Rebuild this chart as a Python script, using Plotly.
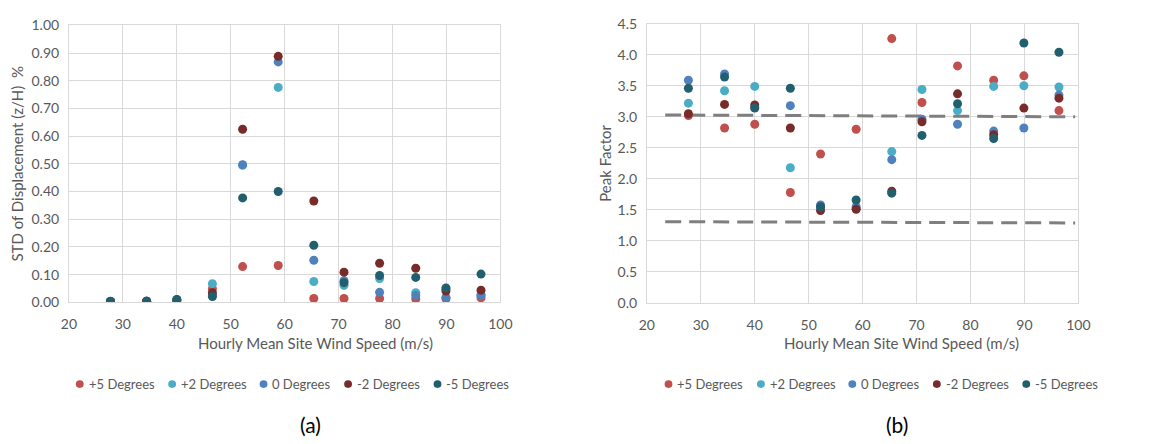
import plotly.graph_objects as go

# ---------------- data ----------------
wind_speed = [27.7, 34.4, 40.0, 46.6, 52.2, 58.8, 65.4, 71.0, 77.6, 84.3, 89.9, 96.4]
series_names = ["+5 Degrees", "+2 Degrees", "0 Degrees", "-2 Degrees", "-5 Degrees"]
series_colors = ["#C0504D", "#4BACC6", "#4F81BD", "#772C2A", "#215F6E"]

std_p5 = [0.000, 0.003, 0.005, 0.049, 0.129, 0.133, 0.014, 0.014, 0.014, 0.012, 0.013, 0.016]
std_p2 = [0.003, 0.004, 0.008, 0.067, 0.495, 0.776, 0.075, 0.061, 0.086, 0.035, 0.048, 0.028]
std_0 = [0.003, 0.004, 0.008, 0.025, 0.497, 0.868, 0.152, 0.078, 0.036, 0.025, 0.018, 0.025]
std_m2 = [0.003, 0.004, 0.009, 0.035, 0.625, 0.888, 0.366, 0.109, 0.141, 0.123, 0.041, 0.044]
std_m5 = [0.004, 0.004, 0.010, 0.021, 0.377, 0.400, 0.206, 0.071, 0.097, 0.090, 0.052, 0.102]

pf_p5 = [3.02, 2.82, 2.88, 1.78, 2.40, 2.80, 4.26, 3.23, 3.82, 3.59, 3.66, 3.10]
pf_p2 = [3.22, 3.42, 3.49, 2.18, 1.55, 1.52, 2.44, 3.44, 3.10, 3.49, 3.50, 3.48]
pf_0 = [3.59, 3.69, 3.15, 3.18, 1.58, 1.55, 2.31, 2.96, 2.88, 2.77, 2.82, 3.35]
pf_m2 = [3.05, 3.20, 3.19, 2.82, 1.49, 1.51, 1.80, 2.92, 3.37, 2.71, 3.14, 3.30]
pf_m5 = [3.46, 3.64, 3.14, 3.46, 1.55, 1.66, 1.77, 2.70, 3.21, 2.65, 4.19, 4.04]

limit_x = [23.4, 99.4]
upper_limit = [3.03, 3.00]
lower_limit = [1.31, 1.29]

std_series = [std_p5, std_p2, std_0, std_m2, std_m5]
pf_series = [pf_p5, pf_p2, pf_0, pf_m2, pf_m5]

left_ticks = [0.0, 0.1, 0.2, 0.3, 0.4, 0.5, 0.6, 0.7, 0.8, 0.9, 1.0]
right_ticks = [0.0, 0.5, 1.0, 1.5, 2.0, 2.5, 3.0, 3.5, 4.0, 4.5]
x_ticks = [20, 30, 40, 50, 60, 70, 80, 90, 100]

# ---------------- figure ----------------
W, H = 1169, 444
FONT = "Lato"
TXT = "#595959"
GRID = "#D9D9D9"

fig = go.Figure()

# dashed limit lines (drawn first, below markers)
for ly in (upper_limit, lower_limit):
    fig.add_trace(go.Scatter(x=limit_x, y=ly, mode="lines", xaxis="x2", yaxis="y2",
                             line=dict(color="#7F7F7F", width=3, dash="16px,8px"),
                             showlegend=False, hoverinfo="skip"))

for name, col, vals in zip(series_names, series_colors, std_series):
    fig.add_trace(go.Scatter(x=wind_speed, y=vals, mode="markers", name=name,
                             marker=dict(color=col, size=9), xaxis="x", yaxis="y",
                             showlegend=False))
for name, col, vals in zip(series_names, series_colors, pf_series):
    fig.add_trace(go.Scatter(x=wind_speed, y=vals, mode="markers", name=name,
                             marker=dict(color=col, size=9), xaxis="x2", yaxis="y2",
                             showlegend=False))


def px_x(p):
    return p / W


def px_y(p):
    return 1 - p / H


axis_common = dict(showgrid=True, gridcolor=GRID, gridwidth=1, showline=True,
                   linecolor=GRID, linewidth=1, mirror=True, zeroline=False,
                   ticks="", tickfont=dict(family=FONT, size=14, color=TXT))

annotations = []
shapes = []

# x-axis titles and panel labels
for cx, lab in ((313, "(a)"), (909, "(b)")):
    annotations.append(dict(text="Hourly Mean Site Wind Speed (m/s)", x=px_x(cx), y=px_y(347),
                            xref="paper", yref="paper", xanchor="center", yanchor="middle",
                            showarrow=False, font=dict(family=FONT, size=15, color=TXT)))
    annotations.append(dict(text=lab, x=px_x(cx - 5), y=px_y(432), xref="paper", yref="paper",
                            xanchor="center", yanchor="middle", showarrow=False,
                            font=dict(family=FONT, size=21, color="#000000")))

# legends (one under each panel)
legend_marker_x = [73, 167, 260, 346, 437]
legend_y = 390
for offset in (0, 599):
    for name, col, mx in zip(series_names, series_colors, legend_marker_x):
        cx = mx + offset
        shapes.append(dict(type="circle", xref="paper", yref="paper",
                           x0=px_x(cx - 4), x1=px_x(cx + 4),
                           y0=px_y(legend_y + 4), y1=px_y(legend_y - 4),
                           fillcolor=col, line=dict(width=0)))
        annotations.append(dict(text=name, x=px_x(cx + 7), y=px_y(legend_y),
                                xref="paper", yref="paper", xanchor="left", yanchor="middle",
                                showarrow=False, font=dict(family=FONT, size=13, color=TXT)))

fig.update_layout(
    width=W, height=H,
    margin=dict(l=0, r=0, t=0, b=0),
    paper_bgcolor="white", plot_bgcolor="white",
    font=dict(family=FONT, color=TXT),
    showlegend=False,
    xaxis=dict(domain=[px_x(62), px_x(501)], range=[20, 100], tickvals=x_ticks,
               anchor="y", ticklabelstandoff=9, **axis_common),
    yaxis=dict(domain=[px_y(305), px_y(17)], range=[0, 1.0], tickvals=left_ticks,
               tickformat=".2f", anchor="x", ticklabelstandoff=6,
               title=dict(text="STD of Displacement (z/H)  %", font=dict(family=FONT, size=15, color=TXT), standoff=4),
               **axis_common),
    xaxis2=dict(domain=[px_x(650), px_x(1089)], range=[20, 100], tickvals=x_ticks,
                anchor="y2", ticklabelstandoff=9, **axis_common),
    yaxis2=dict(domain=[px_y(305.7), px_y(15.3)], range=[0, 4.5], tickvals=right_ticks,
                tickformat=".1f", anchor="x2", ticklabelstandoff=6,
                title=dict(text="Peak Factor", font=dict(family=FONT, size=15, color=TXT), standoff=2),
                **axis_common),
    annotations=annotations,
    shapes=shapes,
)

fig.write_html("out.html")
